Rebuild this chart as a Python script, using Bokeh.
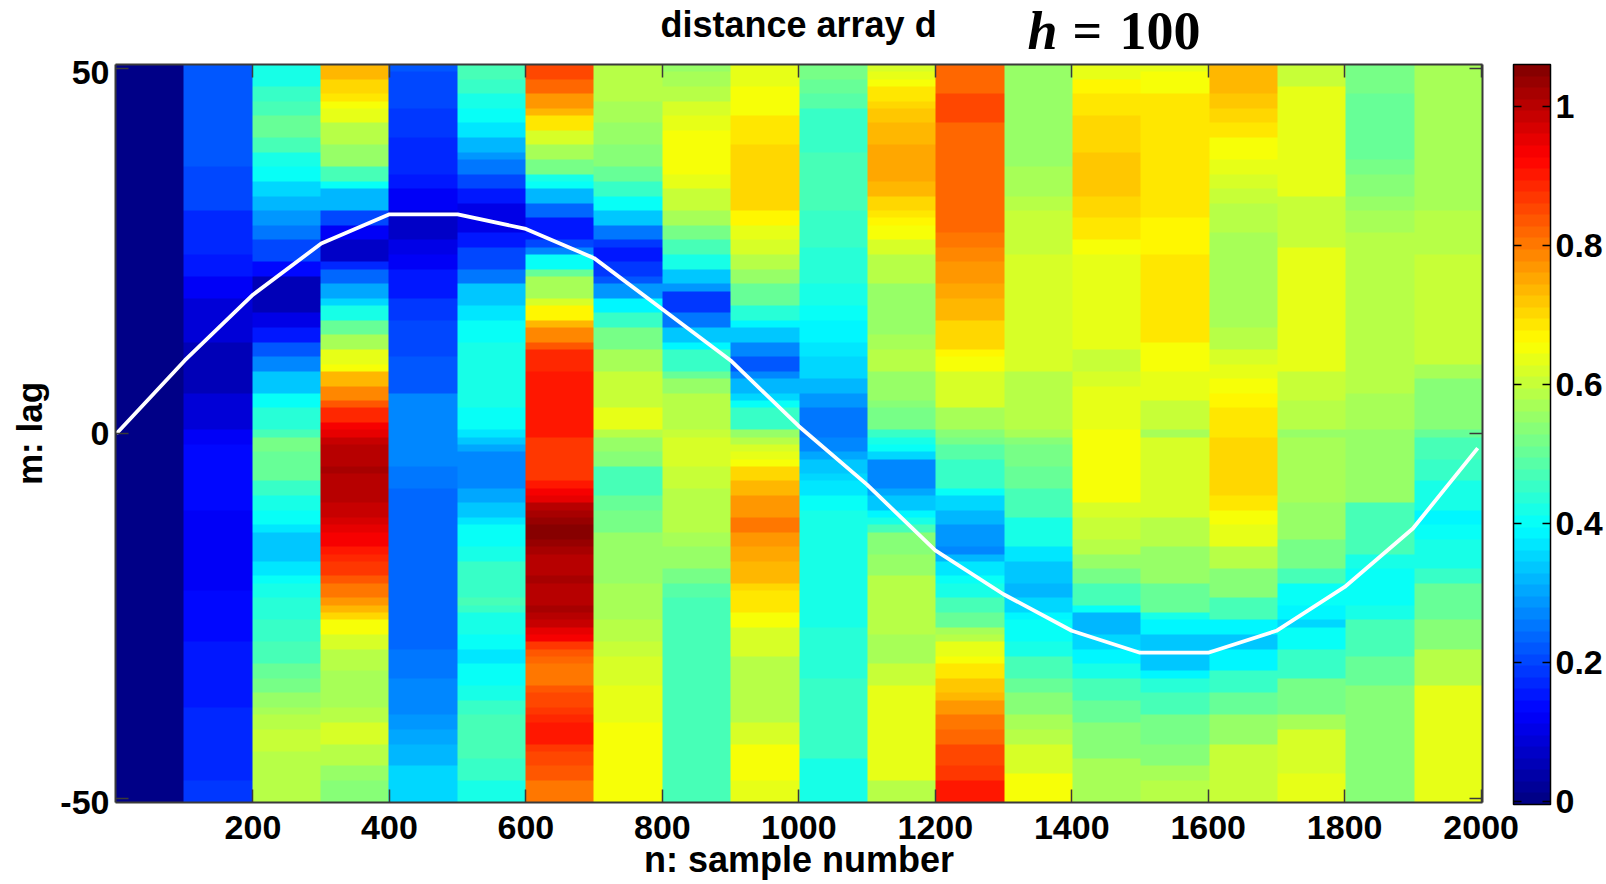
import numpy as np
from bokeh.embed import file_html
from bokeh.resources import INLINE
from bokeh.layouts import column
from bokeh.plotting import figure
from bokeh.models import (LinearAxis, FixedTicker, LinearColorMapper, ColorBar, Label, Range1d)

# Each column: (first row counted from the top, value). Row 0 is lag +50, row 100 is lag -50.
col_0000 = [(0,.01)]
col_0100 = [(0,.225),(3,.23),(14,.205),(20,.175),(26,.15),(29,.13),(32,.085),(38,.06),(45,.085),(50,.13),(52,.145),(61,.13),(72,.145),(79,.165),(84,.15),(88,.17),(98,.185)]
col_0200 = [(0,.43),(3,.45),(5,.48),(7,.50),(10,.465),(12,.43),(14,.40),(16,.36),(18,.33),(20,.29),(22,.25),(24,.20),(27,.145),(29,.05),(34,.10),(36,.16),(38,.225),(40,.28),(42,.34),(45,.40),(47,.44),(50,.47),(51,.515),(53,.505),(57,.46),(59,.43),(61,.40),(63,.37),(64,.34),(68,.37),(70,.40),(71,.43),(73,.445),(76,.46),(79,.48),(82,.505),(84,.525),(86,.55),(88,.57),(89,.595),(91,.61),(94,.595),(96,.58)]
col_0300 = [(0,.73),(2,.70),(4,.68),(5,.6625),(6,.63),(8,.595),(11,.55),(14,.47),(16,.40),(17,.32),(20,.215),(22,.13),(24,.07),(27,.18),(28,.24),(30,.30),(32,.35),(33,.42),(35,.50),(37,.575),(39,.64),(41,.6625),(42,.73),(44,.79),(46,.83),(47,.885),(49,.93),(50,.945),(51,.985),(52,1.0),(55,1.015),(56,1.0),(60,.985),(62,.965),(63,.945),(64,.93),(66,.905),(67,.885),(68,.865),(70,.84),(71,.805),(73,.77),(74,.73),(75,.70),(76,.6625),(78,.625),(80,.585),(83,.57),(88,.595),(90,.615),(93,.585),(96,.555),(98,.53)]
col_0400 = [(0,.23),(1,.205),(6,.195),(10,.18),(13,.17),(15,.15),(17,.13),(20,.08),(24,.11),(26,.13),(28,.15),(30,.165),(32,.185),(35,.205),(40,.225),(45,.265),(55,.25),(58,.235),(80,.25),(84,.265),(87,.28),(89,.295),(91,.31),(93,.33),(96,.35)]
col_0500 = [(0,.48),(2,.45),(4,.43),(6,.40),(8,.365),(10,.325),(12,.295),(13,.25),(15,.205),(17,.15),(19,.115),(23,.165),(25,.215),(28,.26),(30,.335),(33,.37),(35,.40),(38,.42),(40,.43),(47,.40),(50,.37),(51,.335),(52,.305),(53,.265),(57,.28),(58,.30),(60,.335),(62,.37),(63,.40),(66,.43),(68,.46),(73,.47),(74,.45),(75,.43),(78,.40),(80,.37),(82,.40),(85,.43),(87,.46),(89,.48),(93,.475),(95,.45),(98,.43)]
col_0600 = [(0,.855),(2,.815),(4,.77),(6,.73),(7,.68),(9,.62),(11,.575),(13,.525),(15,.43),(16,.40),(17,.325),(19,.24),(21,.16),(24,.205),(25,.27),(26,.40),(28,.50),(29,.575),(32,.62),(33,.675),(35,.73),(36,.79),(38,.83),(39,.88),(42,.905),(50,.90),(51,.87),(57,.905),(58,.93),(59,.955),(60,.995),(61,1.02),(62,1.04),(63,1.06),(65,1.04),(66,1.025),(67,1.01),(70,1.02),(71,1.01),(74,1.025),(75,.995),(76,.98),(77,.95),(78,.93),(79,.875),(80,.84),(81,.825),(82,.805),(85,.83),(86,.845),(88,.865),(89,.88),(90,.90),(93,.875),(94,.855),(96,.83),(98,.80)]
col_0700 = [(0,.595),(3,.585),(5,.565),(8,.55),(11,.53),(14,.50),(16,.45),(18,.40),(20,.335),(22,.26),(24,.195),(25,.15),(27,.195),(29,.225),(30,.29),(32,.39),(34,.46),(36,.525),(39,.575),(42,.61),(47,.64),(50,.585),(51,.55),(53,.53),(55,.47),(59,.51),(61,.525),(64,.55),(71,.57),(76,.595),(79,.61),(81,.625),(85,.64),(90,.6625)]
col_0800 = [(0,.55),(1,.575),(3,.595),(5,.62),(7,.64),(9,.6625),(15,.645),(17,.605),(20,.57),(22,.525),(24,.47),(26,.42),(28,.345),(30,.29),(31,.195),(34,.25),(36,.335),(38,.385),(39,.46),(42,.505),(43,.555),(45,.595),(50,.60),(51,.62),(55,.605),(58,.585),(64,.57),(66,.555),(69,.525),(71,.495),(73,.48),(90,.47)]
col_0900 = [(0,.64),(3,.6625),(7,.685),(11,.70),(20,.675),(22,.64),(24,.615),(26,.59),(28,.555),(30,.505),(33,.44),(35,.385),(36,.345),(38,.27),(40,.23),(42,.265),(43,.32),(45,.36),(46,.40),(47,.46),(50,.55),(51,.595),(52,.62),(53,.64),(54,.6625),(55,.705),(57,.735),(59,.775),(62,.80),(64,.775),(66,.76),(68,.73),(71,.70),(72,.68),(75,.6625),(77,.625),(81,.595),(90,.62),(93,.6625),(98,.635)]
col_1000 = [(0,.515),(2,.505),(4,.49),(6,.46),(12,.47),(20,.46),(25,.445),(30,.425),(33,.41),(35,.395),(38,.38),(40,.35),(43,.32),(45,.29),(47,.25),(51,.265),(52,.28),(53,.31),(54,.335),(56,.355),(57,.38),(59,.40),(61,.415),(77,.44),(84,.45),(95,.43)]
col_1100 = [(0,.62),(1,.64),(2,.66),(3,.685),(5,.705),(6,.72),(8,.735),(11,.75),(16,.735),(18,.71),(20,.685),(21,.67),(22,.66),(24,.62),(26,.59),(30,.56),(37,.57),(39,.58),(42,.56),(44,.55),(46,.53),(47,.515),(50,.46),(51,.425),(52,.40),(53,.36),(54,.27),(58,.305),(59,.34),(61,.39),(62,.43),(63,.47),(64,.53),(67,.55),(70,.585),(78,.575),(82,.61),(85,.63),(98,.595)]
col_1200 = [(0,.825),(4,.845),(8,.825),(16,.815),(23,.80),(25,.78),(27,.765),(30,.75),(32,.735),(35,.71),(37,.70),(39,.675),(40,.66),(42,.625),(47,.575),(50,.535),(51,.515),(52,.495),(54,.46),(58,.40),(59,.36),(61,.325),(63,.295),(66,.28),(67,.33),(68,.37),(70,.40),(71,.43),(73,.465),(75,.51),(77,.575),(78,.59),(79,.63),(81,.65),(82,.68),(84,.72),(86,.745),(87,.77),(89,.80),(91,.825),(93,.845),(94,.86),(96,.875),(98,.90)]
col_1300 = [(0,.55),(14,.57),(18,.585),(20,.60),(26,.625),(42,.585),(50,.57),(51,.535),(52,.525),(55,.505),(58,.47),(62,.43),(66,.37),(68,.335),(71,.32),(73,.36),(75,.385),(76,.40),(79,.43),(81,.47),(84,.505),(86,.54),(89,.57),(91,.59),(93,.62),(97,.66)]
col_1400 = [(0,.63),(1,.645),(2,.67),(4,.69),(7,.705),(12,.72),(18,.70),(21,.685),(24,.66),(26,.645),(31,.635),(39,.61),(42,.625),(44,.64),(50,.66),(60,.625),(62,.605),(65,.58),(67,.555),(69,.525),(71,.47),(74,.41),(75,.33),(78,.355),(80,.39),(82,.43),(84,.47),(87,.505),(90,.54),(95,.57)]
col_1500 = [(0,.64),(1,.66),(4,.685),(21,.665),(26,.69),(38,.66),(42,.645),(44,.63),(46,.60),(50,.575),(51,.615),(62,.595),(66,.555),(71,.50),(75,.43),(76,.385),(78,.34),(83,.39),(84,.44),(86,.475),(89,.515),(93,.54),(96,.57),(98,.595)]
col_1600 = [(0,.735),(4,.715),(6,.70),(8,.68),(10,.66),(13,.64),(15,.62),(17,.605),(19,.585),(23,.575),(36,.59),(39,.615),(41,.635),(43,.65),(45,.665),(47,.68),(51,.70),(59,.68),(61,.66),(63,.635),(66,.595),(69,.545),(73,.47),(76,.39),(78,.345),(80,.39),(83,.46),(86,.51),(89,.55),(93,.61)]
col_1700 = [(0,.61),(3,.63),(18,.61),(25,.63),(42,.605),(46,.59),(50,.56),(51,.575),(60,.55),(65,.525),(69,.48),(71,.40),(74,.39),(76,.35),(77,.40),(80,.46),(84,.515),(89,.57),(91,.615),(97,.63)]
col_1800 = [(0,.525),(4,.505),(13,.52),(15,.54),(18,.55),(20,.57),(23,.58),(27,.595),(45,.575),(50,.55),(60,.475),(67,.43),(69,.40),(74,.43),(76,.47),(81,.505),(85,.54)]
col_1900 = [(0,.575),(20,.595),(26,.61),(35,.60),(41,.57),(43,.545),(46,.53),(50,.51),(51,.475),(54,.455),(57,.425),(61,.39),(63,.40),(65,.43),(69,.46),(71,.50),(76,.535),(80,.58),(82,.595),(85,.63)]

# White curve: best lag at each block edge
path_n = [0,100,200,300,400,500,600,700,800,900,1000,1100,1200,1300,1400,1500,1600,1700,1800,1900,1995]
path_m = [0,10,19,26,30,30,28,24,17,10,1,-7,-16,-22,-27,-30,-30,-27,-21,-13,-2]

x_ticks = [200,400,600,800,1000,1200,1400,1600,1800,2000]
y_ticks = [-50,0,50]
y_label_at = [-50.5,0,50]
y_labels = {-50.5:"-50", 0:"0", 50:"50"}
cb_ticks = [0,0.2,0.4,0.6,0.8,1]
cb_labels = {0:"0",0.2:"0.2",0.4:"0.4",0.6:"0.6",0.8:"0.8",1:"1"}
d_max = 1.06
columns = [col_0000,col_0100,col_0200,col_0300,col_0400,col_0500,col_0600,col_0700,col_0800,col_0900,
           col_1000,col_1100,col_1200,col_1300,col_1400,col_1500,col_1600,col_1700,col_1800,col_1900]

def expand(runs):
    out = np.zeros(101)
    for k,(start,v) in enumerate(runs):
        end = runs[k+1][0] if k+1 < len(runs) else 101
        out[start:end] = v
    return out

D = np.array([expand(c) for c in columns]).T[::-1]

def jet(i, n=64):
    t = (i+.5)/n
    r = np.clip(min(4*t-1.5, -4*t+4.5),0,1)
    g = np.clip(min(4*t-0.5, -4*t+3.5),0,1)
    b = np.clip(min(4*t+0.5, -4*t+2.5),0,1)
    return "#%02x%02x%02x" % (int(r*255),int(g*255),int(b*255))
palette = [jet(i) for i in range(64)]
mapper = LinearColorMapper(palette=palette, low=0, high=d_max)

W, STRIP = 1606, 60
FONT = "Liberation Sans"
SERIF = "Liberation Serif"
EDGE = "#3a3a3a"

strip = figure(width=W, height=STRIP, frame_height=STRIP, output_backend="svg", toolbar_location=None,
               x_range=Range1d(115,1482), y_range=Range1d(STRIP,0),
               x_axis_type=None, y_axis_type=None, min_border=0, outline_line_color=None)
strip.grid.visible = False
def head(x, y, text, font, size, style):
    strip.add_layout(Label(x=x, y=y, text=text, text_font=font, text_font_size=size, text_font_style=style,
                           text_color="black", text_baseline="alphabetic"))
head(660, 24, "distance array d", FONT, "36px", "bold")
head(1027, 30, "h", SERIF, "54px", "bold italic")
head(1072, 30, "=", SERIF, "52px", "bold")
head(1119, 30, "100", SERIF, "54px", "bold")

p = figure(width=W, height=884-STRIP, output_backend="svg", toolbar_location=None,
           x_range=Range1d(-1.5,2002), y_range=Range1d(-50.5,50.5),
           min_border_left=115, min_border_right=124, min_border_top=4, min_border_bottom=82,
           x_axis_label="n: sample number")
p.grid.visible = False
p.image(image=[D], x=-1.5, y=-50.5, dw=2003.5, dh=101, color_mapper=mapper)
p.line(path_n, path_m, line_color="white", line_width=3.8)

def style(ax, ticks, labels=True):
    ax.ticker = FixedTicker(ticks=ticks)
    ax.major_tick_in = 13; ax.major_tick_out = 0
    ax.minor_tick_line_color = None
    ax.major_tick_line_color = EDGE; ax.major_tick_line_width = 1.5
    ax.axis_line_color = EDGE; ax.axis_line_width = 2
    ax.major_label_text_font = FONT
    ax.major_label_text_font_style = "bold"
    ax.major_label_text_font_size = "34px"
    ax.major_label_text_color = "black" if labels else None
    ax.major_label_standoff = 6
    ax.axis_label_text_font = FONT
    ax.axis_label_text_font_style = "bold"
    ax.axis_label_text_font_size = "35px"
    ax.axis_label_text_color = "black"
    ax.axis_label_standoff = 0

style(p.xaxis[0], x_ticks)
p.xaxis[0].major_label_standoff = 13
p.xaxis[0].axis_label_standoff = -3
p.xaxis[0].axis_label_text_font_size = "36px"

# left: ticks at the lags; labels in a second axis stacked outside them
style(p.yaxis[0], y_ticks, labels=False)
p.yaxis[0].major_label_text_font_size = "0px"; p.yaxis[0].major_label_standoff = 0
yl = LinearAxis(axis_label="m: lag")
style(yl, y_label_at)
yl.major_label_overrides = y_labels
yl.major_tick_in = 0; yl.major_tick_line_color = None; yl.axis_line_color = None
yl.axis_label_standoff = 8
p.add_layout(yl, "left")

top = LinearAxis(); style(top, x_ticks, labels=False); top.major_label_text_font_size = "0px"; top.major_label_standoff = 0
p.add_layout(top, "above")
right = LinearAxis(axis_label=" "); style(right, y_ticks, labels=False); right.major_label_text_font_size = "0px"; right.major_label_standoff = 0
right.axis_label_text_font_size = "1px"; right.axis_label_standoff = 27
p.add_layout(right, "right")

# colour-bar scale: one axis on each edge of the bar, stacked around it in the right panel
p.extra_y_ranges = {"cb": Range1d(-0.001, d_max)}
al = LinearAxis(y_range_name="cb", level="overlay")
style(al, cb_ticks, labels=False)
al.major_label_text_font_size = "0px"; al.major_label_standoff = 0
al.axis_line_color = None; al.major_tick_in = -8; al.major_tick_out = 0; al.major_tick_line_color = "black"; al.major_tick_line_width = 1.5
p.add_layout(al, "right")

cb = ColorBar(color_mapper=mapper, width=37, height=740, padding=0, margin=0, location=(0,-2),
              ticker=FixedTicker(ticks=[]), bar_line_color="black", bar_line_width=1.5,
              major_tick_line_color=None, minor_tick_line_color=None,
              border_line_color=None, background_fill_color=None)
p.add_layout(cb, "right")

ar = LinearAxis(y_range_name="cb", level="overlay")
style(ar, cb_ticks)
ar.major_label_overrides = cb_labels
ar.axis_line_color = None; ar.major_tick_in = 8; ar.major_tick_line_color = "black"; ar.major_tick_line_width = 1.5
ar.major_label_standoff = 5
p.add_layout(ar, "right")

open("out.html","w").write(file_html(column(strip, p), INLINE))
